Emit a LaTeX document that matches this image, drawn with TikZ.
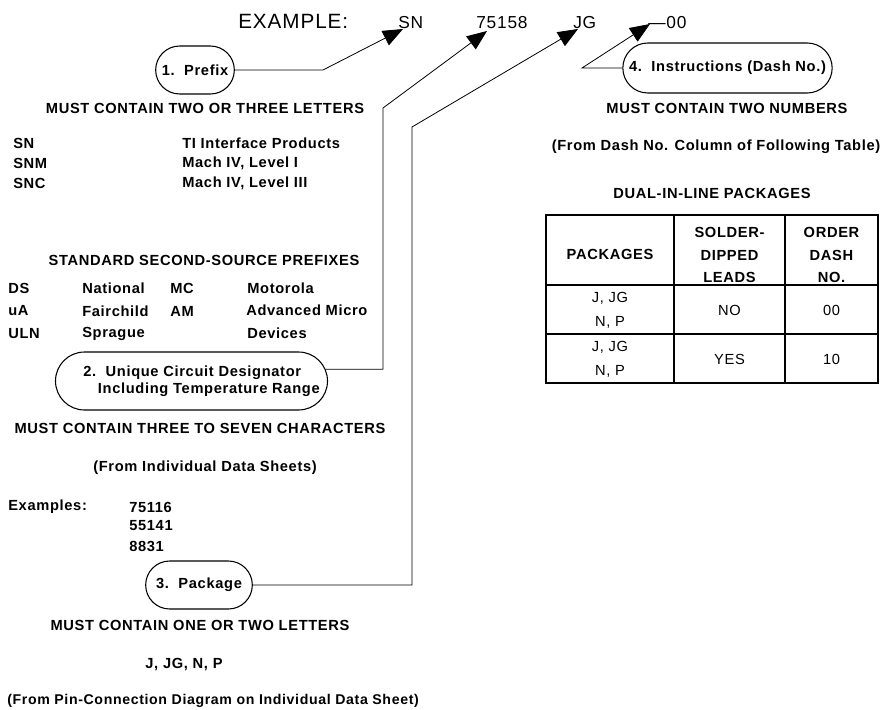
\documentclass[tikz,border=0pt]{standalone}
\usepackage{fontspec}
\setmainfont{Liberation Sans}[LetterSpace=4.5]
\usetikzlibrary{shapes.misc,arrows.meta,calc,positioning}

\begin{document}
\begin{tikzpicture}[x=0.75pt,y=-0.75pt,
  txt/.style={inner sep=0,font=\bfseries\fontsize{11}{13}\selectfont},
  body/.style={inner sep=0,font=\fontsize{11}{13}\selectfont},
  pn/.style={inner sep=0,anchor=base west,font=\fontsize{13}{15}\selectfont},
  pill/.style={rounded rectangle,draw,line width=0.8pt,inner sep=2pt,font=\bfseries\fontsize{11}{13}\selectfont},
  lead/.style={line width=0.6pt,-{Triangle[length=15pt,width=12pt]}}]
\useasboundingbox (0,0) rectangle (885,710);

% part number
\node[pn,font=\fontsize{15.5}{17}\selectfont] (ex) at (238,29) {EXAMPLE:};
\node[pn] (sn) at (398,29) {SN};
\node[pn] (num) at (476,29) {75158};
\node[pn] (jg) at (573,29) {JG};
\node[pn] (dash) at (648,29) {---00};

% 1. prefix
\node[pill,minimum width=63pt,minimum height=36pt] (p1) at (195,70) {1.~~Prefix};
\node[txt] (musttwo) at (205,108) {MUST CONTAIN TWO OR THREE LETTERS};
\node[txt,anchor=west] (sna) at (13,143) {SN};
\node[txt,anchor=west] (snm) at (13,163) {SNM};
\node[txt,anchor=west] (snc) at (13,183) {SNC};
\node[txt,anchor=west] (sndesc) at (182,143) {TI Interface Products};
\node[txt,anchor=west] (snmdesc) at (182,163) {Mach IV, Level I};
\node[txt,anchor=west] (sncdesc) at (182,183) {Mach IV, Level III};

\node[txt] (std) at (204,260) {STANDARD SECOND-SOURCE PREFIXES};
\node[txt,anchor=west] (ds) at (8,288) {DS};
\node[txt,anchor=west] (ua) at (8,311) {uA};
\node[txt,anchor=west] (uln) at (8,334) {ULN};
\node[txt,anchor=west] (nat) at (82,288) {National};
\node[txt,anchor=west] (fair) at (82,311) {Fairchild};
\node[txt,anchor=west] (spr) at (82,334) {Sprague};
\node[txt,anchor=west] (mc) at (170,288) {MC};
\node[txt,anchor=west] (am) at (170,311) {AM};
\node[txt,anchor=west] (mot) at (247,288) {Motorola};
\node[txt,anchor=west] (adv) at (246,310) {Advanced Micro};
\node[txt,anchor=west] (dev) at (247,333) {Devices};

% 2. circuit designator
\node[pill,align=left,minimum width=208pt,minimum height=43.5pt] (p2) at (191.5,381)
  {\hspace*{15pt}2.~~Unique Circuit Designator\\\hspace*{26pt}Including Temperature Range};
\node[txt] (mustthree) at (200,428) {MUST CONTAIN THREE TO SEVEN CHARACTERS};
\node[txt] (fromind) at (205,468) {(From Individual Data Sheets)};
\node[txt,anchor=west] (exs) at (8,507) {Examples:};
\node[txt,anchor=west] (ex1) at (129,507) {75116};
\node[txt,anchor=west] (ex2) at (129,526) {55141};
\node[txt,anchor=west] (ex3) at (129,546) {8831};

% 3. package
\node[pill,minimum width=84pt,minimum height=36pt] (p3) at (199,585) {3.~~Package};
\node[txt] (mustone) at (200,625) {MUST CONTAIN ONE OR TWO LETTERS};
\node[txt] (pkgs) at (184,665) {J, JG, N, P};
\node[txt,anchor=west,font=\bfseries\fontsize{10.6}{12}\selectfont] (frompin) at (7,701) {(From Pin-Connection Diagram on Individual Data Sheet)};

% 4. instructions
\node[pill,minimum width=161pt,minimum height=37.5pt] (p4) at (727.5,68) {4.~~Instructions (Dash No.)};
\node[txt] (musttwonum) at (727,108) {MUST CONTAIN TWO NUMBERS};
\node[txt] (fromdash) at (716,147) {(From Dash No. Column of Following Table)};
\node[txt] (dil) at (712,193) {DUAL-IN-LINE PACKAGES};

% leaders
\coordinate (b1) at (323,70);
\coordinate (b2) at (383,108);
\coordinate (b3) at (412,127);
\coordinate (b4) at (582,68);
\draw[lead] (p1.east) -- (b1) -- ($(sn.base west)+(5,0)$);
\draw[lead] (p2.5) -| (b2) -- ($(num.base west)+(11,2)$);
\draw[lead] (p3.east) -| (b3) -- ($(jg.base west)+(5,0)$);
\draw[lead] (p4.west) -- (b4) -- ($(dash.base west)+(2,-5)$);

% table
\draw[line width=0.8pt] (546,215) rectangle (878,383);
\draw[line width=0.8pt] (546,285) -- (878,285) (546,334) -- (878,334)
  (674,215) -- (674,383) (785,215) -- (785,383);
\node[txt] (hpkg) at (610,254) {PACKAGES};
\node[txt,align=center,font=\bfseries\fontsize{11}{17}\selectfont] (hsold) at (729.5,255) {SOLDER-\\DIPPED\\LEADS};
\node[txt,align=center,font=\bfseries\fontsize{11}{17}\selectfont] (hdash) at (831.5,255) {ORDER\\DASH\\NO.};
\node[body,align=center,font=\fontsize{11}{18}\selectfont] (r1pkg) at (610,310) {J, JG\\N, P};
\node[body] (r1sold) at (729.5,310) {NO};
\node[body] (r1dash) at (831.5,310) {00};
\node[body,align=center,font=\fontsize{11}{18}\selectfont] (r2pkg) at (610,359) {J, JG\\N, P};
\node[body] (r2sold) at (729.5,359) {YES};
\node[body] (r2dash) at (831.5,359) {10};
\end{tikzpicture}
\end{document}
